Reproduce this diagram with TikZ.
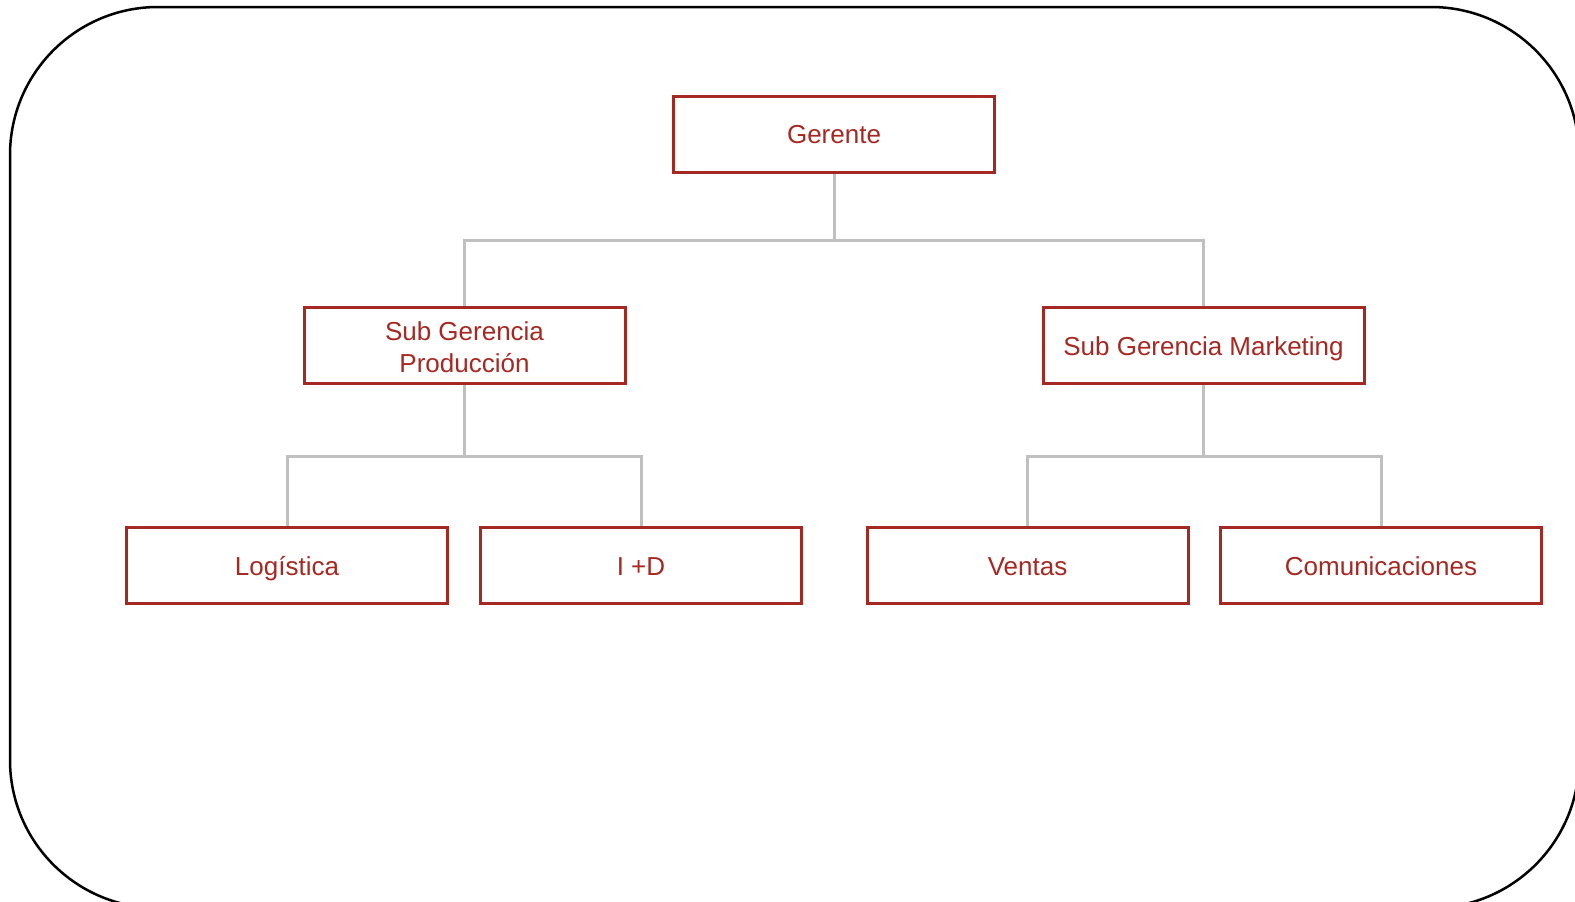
\documentclass[tikz,border=0pt]{standalone}
\usepackage{fontspec}
\setmainfont{Liberation Sans}
\definecolor{boxred}{RGB}{166,40,34}
\definecolor{conngray}{RGB}{192,192,192}
\begin{document}
\begin{tikzpicture}[x=1pt,y=-1pt,
  orgbox/.style={draw=boxred,line width=3pt,minimum width=321pt,minimum height=76pt,
    inner sep=0pt,align=center,text=boxred,font=\fontsize{26}{32}\selectfont},
  single/.style={text height=20pt,text depth=0.5pt},
  conn/.style={draw=conngray,line width=3pt}]
\useasboundingbox (0,0) rectangle (1575,902);
\clip (0,0) rectangle (1575,902);
\draw[line width=2.5pt,rounded corners=148pt] (10,7) rectangle (1579,908);
\node[orgbox,single] (g) at (834,134) {Gerente};
\node[orgbox] (sgp) at (464.5,345.5) {\rule{0pt}{22pt}Sub Gerencia\\Producción};
\node[orgbox,single] (sgm) at (1203.5,345.5) {Sub Gerencia Marketing};
\node[orgbox,single] (log) at (287,565.5) {Logística};
\node[orgbox,single] (id) at (641,565.5) {I +D};
\node[orgbox,single] (ven) at (1027.5,565.5) {Ventas};
\node[orgbox,single] (com) at (1381,565.5) {Comunicaciones};
\coordinate (j1) at (834,240);
\coordinate (j2) at (464.5,456);
\coordinate (j3) at (1203.5,456);
\draw[conn] (g.south) -- (j1) -| (sgp.north);
\draw[conn] (j1) -| (sgm.north);
\draw[conn] (sgp.south) -- (j2) -| (log.north);
\draw[conn] (j2) -| (id.north);
\draw[conn] (sgm.south) -- (j3) -| (ven.north);
\draw[conn] (j3) -| (com.north);
\end{tikzpicture}
\end{document}
